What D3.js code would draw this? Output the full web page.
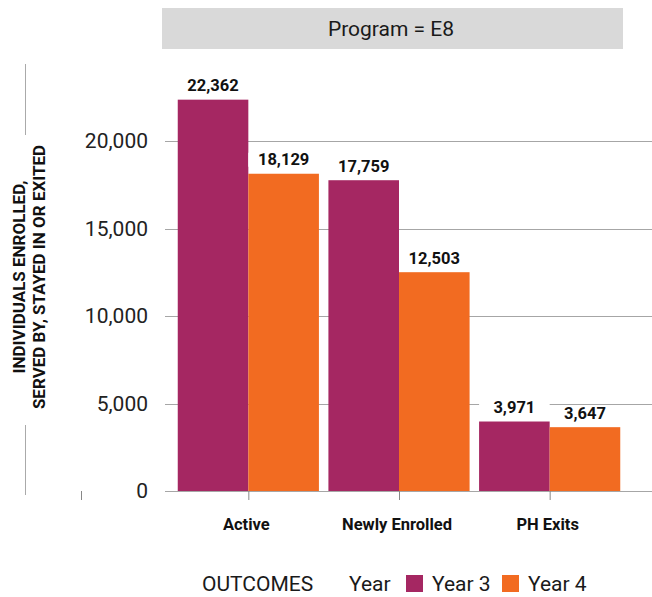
<!DOCTYPE html>
<html>
<head>
<meta charset="utf-8">
<script src="https://cdn.jsdelivr.net/npm/d3@7"></script>
<style>
  body { margin: 0; background: #fff; }
  svg text { font-family: "Roboto", "Liberation Sans", sans-serif; }
</style>
</head>
<body>
<svg id="chart" width="652" height="597"></svg>
<script>
// data
var outcomes = ["Active", "Newly Enrolled", "PH Exits"];
var years = ["Year 3", "Year 4"];
var year3 = [22362, 17759, 3971];
var year4 = [18129, 12503, 3647];
var yTicks = [0, 5000, 10000, 15000, 20000];
var colors = ["#a52762", "#f26b21"];

var svg = d3.select("#chart");

var x = d3.scaleBand().domain(outcomes).range([173, 625]).paddingInner(0.063).paddingOuter(0.0315);
var x1 = d3.scaleBand().domain(years).range([0, x.bandwidth()]);
var y = d3.scaleLinear().domain([0, 20000]).range([491, 141]);
var fmt = d3.format(",");

// facet strip
svg.append("rect").attr("x", 162).attr("y", 8).attr("width", 461).attr("height", 41).attr("fill", "#d9d9d9");
svg.append("text").attr("x", 391).attr("y", 29).attr("text-anchor", "middle").attr("dominant-baseline", "central")
    .style("font-size", "21px").attr("fill", "#1a1a1a").text("Program = E8");

// grid lines + y axis labels
var grid = svg.append("g");
grid.selectAll("line").data(yTicks).enter().append("line")
    .attr("x1", 165).attr("x2", 652)
    .attr("y1", function(d) { return Math.round(y(d)) + 0.5; })
    .attr("y2", function(d) { return Math.round(y(d)) + 0.5; })
    .attr("stroke", "#a6a6a6").attr("stroke-width", 1);
grid.selectAll("text").data(yTicks).enter().append("text")
    .attr("x", 148).attr("y", function(d) { return y(d); })
    .attr("text-anchor", "end").attr("dominant-baseline", "central")
    .style("font-size", "21px").attr("fill", "#222").text(fmt);

// bars
var rows = outcomes.map(function(o, i) {
    return { outcome: o, values: [{ year: years[0], v: year3[i], c: colors[0] }, { year: years[1], v: year4[i], c: colors[1] }] };
});
var groups = svg.append("g").selectAll("g").data(rows).enter().append("g")
    .attr("transform", function(d) { return "translate(" + x(d.outcome) + ",0)"; });
groups.selectAll("rect").data(function(d) { return d.values; }).enter().append("rect")
    .attr("x", function(d) { return x1(d.year); })
    .attr("y", function(d) { return y(d.v); })
    .attr("width", x1.bandwidth())
    .attr("height", function(d) { return y(0) - y(d.v); })
    .attr("fill", function(d) { return d.c; });

// value labels with white backing
groups.selectAll("rect.lbl").data(function(d) { return d.values; }).enter().append("rect")
    .attr("class", "lbl")
    .attr("x", function(d) { return x1(d.year); })
    .attr("y", function(d) { return y(d.v) - 21; })
    .attr("width", x1.bandwidth()).attr("height", 14).attr("fill", "#fff");
groups.selectAll("text").data(function(d) { return d.values; }).enter().append("text")
    .attr("x", function(d) { return x1(d.year) + x1.bandwidth() / 2; })
    .attr("y", function(d) { return y(d.v) - 14; })
    .attr("text-anchor", "middle").attr("dominant-baseline", "central")
    .style("font-size", "16.5px").style("font-weight", "bold").attr("fill", "#111")
    .text(function(d) { return fmt(d.v); });

// x ticks and labels
var xt = svg.append("g");
outcomes.forEach(function(o) {
    var cx = x(o) + x.bandwidth() / 2;
    xt.append("line").attr("x1", cx + 0.5).attr("x2", cx + 0.5).attr("y1", 491).attr("y2", 500).attr("stroke", "#888");
    xt.append("text").attr("x", cx - 2).attr("y", 524).attr("text-anchor", "middle").attr("dominant-baseline", "central")
        .style("font-size", "16.5px").style("font-weight", "bold").attr("fill", "#111").text(o);
});
xt.append("line").attr("x1", 81.5).attr("x2", 81.5).attr("y1", 491).attr("y2", 500).attr("stroke", "#888");

// y axis title
svg.append("line").attr("x1", 25.5).attr("x2", 25.5).attr("y1", 64).attr("y2", 135).attr("stroke", "#aaa");
svg.append("line").attr("x1", 25.5).attr("x2", 25.5).attr("y1", 425).attr("y2", 495).attr("stroke", "#aaa");
var yt = svg.append("text").attr("transform", "translate(0,277) rotate(-90)")
    .attr("text-anchor", "middle").style("font-size", "17px").style("font-weight", "bold").attr("fill", "#111");
yt.append("tspan").attr("x", 0).attr("y", 25).text("INDIVIDUALS ENROLLED,");
yt.append("tspan").attr("x", 0).attr("y", 45).text("SERVED BY, STAYED IN OR EXITED");

// legend
var lg = svg.append("g").style("font-size", "21px").attr("fill", "#1a1a1a");
lg.append("text").attr("x", 202).attr("y", 584).attr("dominant-baseline", "central").text("OUTCOMES");
lg.append("text").attr("x", 349).attr("y", 584).attr("dominant-baseline", "central").text("Year");
var lx = [406, 502];
years.forEach(function(yr, i) {
    lg.append("rect").attr("x", lx[i]).attr("y", 575).attr("width", 17).attr("height", 17).attr("fill", colors[i]);
    lg.append("text").attr("x", lx[i] + 26).attr("y", 584).attr("dominant-baseline", "central").text(yr);
});
</script>
</body>
</html>
